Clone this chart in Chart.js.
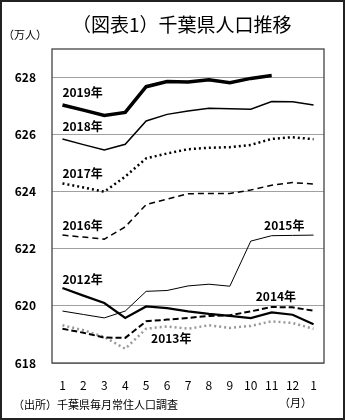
<!DOCTYPE html>
<html>
<head>
<meta charset="utf-8">
<script src="https://cdn.jsdelivr.net/npm/chart.js@4"></script>
<style>
  body { margin: 0; background: #fff; }
  canvas { display: block; }
</style>
</head>
<body>
<canvas id="PlotCanvas" width="345" height="420"></canvas>
<script>
var months = ['1', '2', '3', '4', '5', '6', '7', '8', '9', '10', '11', '12', '1'];

var pop2019 = [627.04, 626.86, 626.67, 626.78, 627.68, 627.86, 627.84, 627.92, 627.82, 627.97, 628.07];
var pop2018 = [625.85, 625.65, 625.46, 625.66, 626.48, 626.71, 626.83, 626.92, 626.91, 626.89, 627.16, 627.15, 627.04];
var pop2017 = [624.29, 624.15, 624.00, 624.53, 625.17, 625.34, 625.49, 625.54, 625.56, 625.64, 625.85, 625.91, 625.84];
var pop2016 = [622.48, 622.41, 622.34, 622.77, 623.55, 623.74, 623.93, 623.94, 623.94, 624.06, 624.23, 624.32, 624.27];
var pop2015 = [619.82, 619.70, 619.58, 619.82, 620.51, 620.54, 620.70, 620.76, 620.69, 622.27, 622.46, 622.47, 622.48];
var pop2014 = [619.20, 619.06, 618.89, 618.88, 619.46, 619.52, 619.58, 619.65, 619.67, 619.81, 619.96, 619.95, 619.83];
var pop2013 = [619.32, 619.15, 618.91, 618.50, 619.20, 619.28, 619.20, 619.32, 619.23, 619.30, 619.46, 619.40, 619.20];
var pop2012 = [620.63, 620.36, 620.10, 619.58, 619.98, 619.92, 619.81, 619.72, 619.65, 619.57, 619.77, 619.69, 619.36];

var yTicks = [618, 620, 622, 624, 626, 628];

// series name labels, placed in data coordinates (x index, y value)
var seriesLabels = [
    { text: '2019年', x: 0, y: 627.47, align: 'left' },
    { text: '2018年', x: 0, y: 626.28, align: 'left' },
    { text: '2017年', x: 0, y: 624.64, align: 'left' },
    { text: '2016年', x: 0, y: 622.83, align: 'left' },
    { text: '2015年', x: 10.6, y: 622.81, align: 'center' },
    { text: '2012年', x: 0, y: 620.93, align: 'left' },
    { text: '2014年', x: 10.2, y: 620.33, align: 'center' },
    { text: '2013年', x: 5.2, y: 618.85, align: 'center' }
];

var jpFont = '"Noto Sans CJK JP", "Noto Sans", sans-serif';

var decorPlugin = {
    id: 'decor',
    beforeDraw: function (chart) {
        var ctx = chart.ctx;
        ctx.save();
        ctx.fillStyle = '#fff';
        ctx.fillRect(0, 0, chart.width, chart.height);
        ctx.restore();
    },
    afterDraw: function (chart) {
        var ctx = chart.ctx;
        var a = chart.chartArea;
        var xs = chart.scales.x, ys = chart.scales.y;
        ctx.save();
        // plot frame
        ctx.strokeStyle = '#444';
        ctx.lineWidth = 1.3;
        ctx.strokeRect(a.left, a.top, a.right - a.left, a.bottom - a.top);
        // outer frame
        ctx.strokeStyle = '#222';
        ctx.lineWidth = 2;
        ctx.strokeRect(1, 1, chart.width - 2, chart.height - 2);

        ctx.fillStyle = '#000';
        ctx.textBaseline = 'middle';
        ctx.textAlign = 'left';
        ctx.font = '19px ' + jpFont;
        ctx.fillText('（図表1）千葉県人口推移', 72, 25);
        ctx.font = '11px ' + jpFont;
        ctx.fillText('（万人）', 3, 35);
        ctx.fillText('（月）', 279, 403);
        ctx.fillText('（出所）千葉県毎月常住人口調査', 13, 405);

        ctx.font = 'bold 12px ' + jpFont;
        seriesLabels.forEach(function (l) {
            ctx.textAlign = l.align;
            ctx.fillText(l.text, xs.getPixelForValue(l.x), ys.getPixelForValue(l.y));
        });
        ctx.restore();
    }
};

var ctx = document.getElementById('PlotCanvas').getContext('2d');

function series(label, data, color, width, dash) {
    return {
        label: label,
        data: data,
        borderColor: color,
        borderWidth: width,
        borderDash: dash || [],
        pointRadius: 0,
        tension: 0,
        fill: false
    };
}

var chart = new Chart(ctx, {
    type: 'line',
    data: {
        labels: months,
        datasets: [
            series('2019年', pop2019, '#000', 3.5),
            series('2018年', pop2018, '#000', 1.5),
            series('2017年', pop2017, '#000', 2.5, [2, 3]),
            series('2016年', pop2016, '#000', 1.5, [6, 4]),
            series('2015年', pop2015, '#000', 1),
            series('2012年', pop2012, '#000', 2.2),
            series('2014年', pop2014, '#000', 2, [6, 3]),
            series('2013年', pop2013, '#999', 2.5, [2, 3])
        ]
    },
    options: {
        responsive: false,
        animation: false,
        layout: { padding: { top: 49, right: 21, left: 0, bottom: 0 } },
        plugins: {
            legend: { display: false },
            tooltip: { enabled: false },
            title: { display: false }
        },
        scales: {
            x: {
                offset: true,
                grid: { display: false },
                border: { display: false },
                ticks: {
                    color: '#000',
                    padding: 7,
                    maxRotation: 0,
                    autoSkip: false,
                    font: { family: jpFont, size: 12 }
                },
                afterFit: function (s) { s.height = 57; }
            },
            y: {
                min: 618,
                max: 629,
                afterBuildTicks: function (s) {
                    s.ticks = yTicks.map(function (v) { return { value: v }; });
                },
                grid: { color: '#a0a0a0', lineWidth: 1, drawTicks: false },
                border: { display: false },
                ticks: {
                    color: '#000',
                    padding: 16,
                    font: { family: jpFont, size: 12, weight: 'bold' }
                },
                afterFit: function (s) { s.width = 52; }
            }
        }
    },
    plugins: [decorPlugin]
});
</script>
</body>
</html>
